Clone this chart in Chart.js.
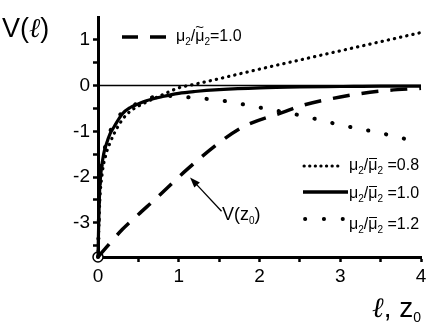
<!DOCTYPE html>
<html>
<head>
<meta charset="utf-8">
<script src="https://cdn.jsdelivr.net/npm/chart.js@4"></script>
<style>
html, body { margin: 0; padding: 0; background: #fff; }
#wrap { position: relative; width: 439px; height: 326px; }
.lbl { position: absolute; font-family: "Liberation Sans", Arial, sans-serif; color: #000; white-space: nowrap; line-height: 1; }
.leg { font-family: "Liberation Sans Narrow", "Liberation Sans", Arial, sans-serif; font-size: 16px; }
.leg sub { font-size: 10px; vertical-align: -4px; }
.ell { font-family: "DejaVu Serif", serif; font-style: italic; }
.acc { position: relative; display: inline-block; }
.acc i { position: absolute; left: 0; top: -9px; font-style: normal; font-size: 15px; }
.acc b { position: absolute; left: 1px; right: 0; top: 1px; height: 0; border-top: 1.2px solid #000; }
</style>
</head>
<body>
<div id="wrap">
  <canvas id="chart" width="439" height="326"></canvas>
  <div class="lbl" style="left:2px; top:14px; font-size:27px;">V(<span class="ell">ℓ</span>)</div>
  <div class="lbl" style="left:372px; top:294px; font-size:28px;"><span class="ell">ℓ</span>, z<sub style="font-size:14px;vertical-align:-5px;">0</sub></div>
  <div class="lbl" style="left:222px; top:205px; font-size:18px;">V(z<sub style="font-size:10px;vertical-align:-4px;">0</sub>)</div>
  <div class="lbl leg" style="left:176px; top:28px;">μ<sub>2</sub>/<span class="acc">μ<i>~</i></span><sub>2</sub>=1.0</div>
  <div class="lbl leg" style="left:349px; top:157px;">μ<sub>2</sub>/<span class="acc">μ<b></b></span><sub>2</sub> =0.8</div>
  <div class="lbl leg" style="left:349px; top:185px;">μ<sub>2</sub>/<span class="acc">μ<b></b></span><sub>2</sub> =1.0</div>
  <div class="lbl leg" style="left:349px; top:216px;">μ<sub>2</sub>/<span class="acc">μ<b></b></span><sub>2</sub> =1.2</div>
</div>
<script>
// curve for mu2/mu2bar = 1.0 (solid)
const solidX = [0, 0.01, 0.02, 0.04, 0.07, 0.1, 0.15, 0.2, 0.3, 0.4, 0.5, 0.6, 0.8, 1.0, 1.2, 1.5, 2, 2.5, 3, 3.5, 4];
const solidY = [-3.75, -2.9, -2.3, -1.85, -1.5, -1.3, -1.05, -0.9, -0.62, -0.48, -0.4, -0.33, -0.24, -0.17, -0.13, -0.09, -0.05, -0.03, -0.02, -0.01, -0.01];

// mu2/mu2bar = 0.8 (fine dots)
const lowX = [0, 0.02, 0.05, 0.1, 0.15, 0.2, 0.3, 0.4, 0.5, 0.6, 0.8, 1.0, 1.2, 1.5, 2, 2.5, 3, 3.5, 4];
const lowY = [-3.75, -2.6, -1.95, -1.5, -1.25, -1.05, -0.75, -0.56, -0.45, -0.36, -0.2, -0.05, 0.03, 0.15, 0.36, 0.56, 0.76, 0.96, 1.16];

// mu2/mu2bar = 1.2 (sparse dots)
const highX = [0, 0.02, 0.05, 0.1, 0.15, 0.2, 0.3, 0.4, 0.6, 0.8, 1.0, 1.2, 1.5, 2, 2.5, 3, 3.5, 4];
const highY = [-3.75, -2.2, -1.7, -1.25, -1.0, -0.85, -0.58, -0.47, -0.3, -0.22, -0.24, -0.27, -0.32, -0.48, -0.65, -0.86, -1.04, -1.25];

// V(z0), dashed
const vzX = [0, 0.3, 0.5, 0.7, 1.1, 1.5, 1.8, 2.33, 2.5, 3, 3.5, 4];
const vzY = [-3.75, -3.15, -2.82, -2.5, -1.84, -1.25, -0.9, -0.56, -0.45, -0.25, -0.12, -0.06];

const X_TICKS = [0, 0.5, 1, 1.5, 2, 2.5, 3, 3.5, 4];
const Y_TICKS = [-3.5, -3, -2.5, -2, -1.5, -1, -0.5, 0, 0.5, 1];
const START_POINT = [0, -3.75];
const ARROW_TIP = [1.14, -2.01];
const ARROW_TAIL = [1.53, -2.75];

const pts = (xs, ys) => xs.map((x, i) => ({ x: x, y: ys[i] }));

const decor = {
    id: 'decor',
    afterDatasetsDraw(chart) {
        const { ctx, scales: { x, y } } = chart;
        ctx.save();
        ctx.strokeStyle = '#000';
        ctx.fillStyle = '#000';

        // arrow pointing at V(z0)
        const hx = x.getPixelForValue(ARROW_TIP[0]), hy = y.getPixelForValue(ARROW_TIP[1]);
        const tx = x.getPixelForValue(ARROW_TAIL[0]), ty = y.getPixelForValue(ARROW_TAIL[1]);
        const ang = Math.atan2(hy - ty, hx - tx);
        ctx.lineWidth = 1.3;
        ctx.beginPath();
        ctx.moveTo(tx, ty);
        ctx.lineTo(hx - 6 * Math.cos(ang), hy - 6 * Math.sin(ang));
        ctx.stroke();
        ctx.beginPath();
        ctx.moveTo(hx, hy);
        ctx.lineTo(hx - 11 * Math.cos(ang - 0.35), hy - 11 * Math.sin(ang - 0.35));
        ctx.lineTo(hx - 11 * Math.cos(ang + 0.35), hy - 11 * Math.sin(ang + 0.35));
        ctx.closePath();
        ctx.fill();

        // legend samples
        ctx.lineCap = 'butt';
        ctx.lineWidth = 3.5;
        ctx.setLineDash([16, 12]);
        ctx.beginPath(); ctx.moveTo(122, 37); ctx.lineTo(167, 37); ctx.stroke();

        ctx.lineCap = 'round';
        ctx.lineWidth = 3;
        ctx.setLineDash([0.3, 5.3]);
        ctx.beginPath(); ctx.moveTo(304, 166); ctx.lineTo(342, 166); ctx.stroke();

        ctx.lineCap = 'butt';
        ctx.setLineDash([]);
        ctx.lineWidth = 3.5;
        ctx.beginPath(); ctx.moveTo(303, 192); ctx.lineTo(348, 192); ctx.stroke();

        ctx.lineCap = 'round';
        ctx.lineWidth = 3.8;
        ctx.setLineDash([0.3, 18.5]);
        ctx.beginPath(); ctx.moveTo(305, 219); ctx.lineTo(346, 219); ctx.stroke();
        ctx.restore();
    }
};

function initChart() {
    const ctx = document.getElementById('chart').getContext('2d');
    new Chart(ctx, {
        type: 'line',
        data: {
            datasets: [
                {
                    data: [{ x: 0, y: 0 }, { x: 4, y: 0 }],
                    borderColor: '#000', borderWidth: 1.4, pointRadius: 0
                },
                {
                    data: pts(vzX, vzY),
                    borderColor: '#000', borderWidth: 3.5, borderDash: [17, 12],
                    pointRadius: 0, cubicInterpolationMode: 'monotone'
                },
                {
                    data: pts(lowX, lowY),
                    borderColor: '#000', borderWidth: 3.2, borderDash: [0.3, 6], borderCapStyle: 'round',
                    pointRadius: 0, cubicInterpolationMode: 'monotone'
                },
                {
                    data: pts(highX, highY),
                    borderColor: '#000', borderWidth: 4, borderDash: [0.3, 18], borderCapStyle: 'round',
                    pointRadius: 0, cubicInterpolationMode: 'monotone'
                },
                {
                    data: pts(solidX, solidY),
                    borderColor: '#000', borderWidth: 3.2,
                    pointRadius: 0, cubicInterpolationMode: 'monotone'
                },
                {
                    type: 'scatter',
                    data: [{ x: START_POINT[0], y: START_POINT[1] }],
                    pointRadius: 5, pointBackgroundColor: '#fff', pointBorderColor: '#000', pointBorderWidth: 1.5
                }
            ]
        },
        options: {
            responsive: false,
            animation: false,
            datasets: { line: { clip: false }, scatter: { clip: false } },
            layout: { padding: { left: 0, right: 18, top: 17, bottom: 0 } },
            plugins: { legend: { display: false }, tooltip: { enabled: false } },
            scales: {
                x: {
                    type: 'linear', min: 0, max: 4,
                    afterBuildTicks: s => { s.ticks = X_TICKS.map(v => ({ value: v })); },
                    afterFit: s => { s.height = 69; },
                    border: { color: '#000', width: 3 },
                    grid: { drawOnChartArea: false, tickLength: 5, tickColor: '#000', tickWidth: 2.5 },
                    ticks: {
                        callback: v => Number.isInteger(v) ? String(v) : '',
                        font: { family: 'Liberation Sans', size: 19 }, color: '#000',
                        padding: 3, maxRotation: 0, autoSkip: false
                    }
                },
                y: {
                    type: 'linear', min: -3.75, max: 1.5,
                    afterBuildTicks: s => { s.ticks = Y_TICKS.map(v => ({ value: v })); },
                    afterFit: s => { s.width = 98; },
                    border: { color: '#000', width: 3 },
                    grid: { drawOnChartArea: false, tickLength: 5, tickColor: '#000', tickWidth: 2.5 },
                    ticks: {
                        callback: v => Number.isInteger(v) ? String(v) : '',
                        font: { family: 'Liberation Sans', size: 19 }, color: '#000',
                        padding: 3, autoSkip: false
                    }
                }
            }
        },
        plugins: [decor]
    });
}

document.addEventListener('DOMContentLoaded', initChart);
</script>
</body>
</html>
